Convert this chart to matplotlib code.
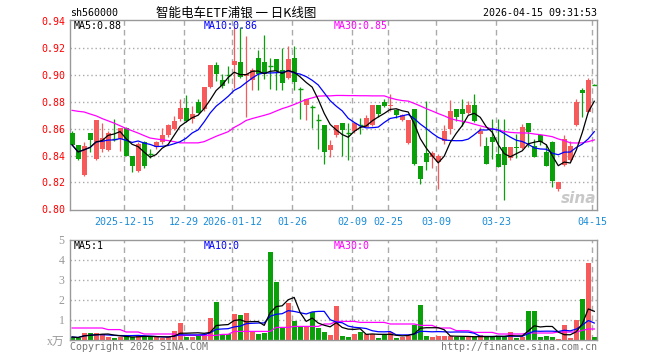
import matplotlib
matplotlib.use('Agg')
import matplotlib.pyplot as plt
import pandas as pd

# daily candles 2025-12-02 .. 2026-04-15
opens = [0.857, 0.848, 0.8255, 0.857, 0.8375, 0.845, 0.8445, 0.853, 0.8525, 0.8605,
         0.840, 0.8285, 0.850, 0.842, 0.8465, 0.850, 0.855, 0.860, 0.867, 0.8755,
         0.867, 0.880, 0.8745, 0.891, 0.9075, 0.896, 0.9005, 0.9075, 0.910, 0.899,
         0.8965, 0.913, 0.910, 0.9075, 0.912, 0.904, 0.898, 0.9125, 0.890, 0.878,
         0.877, 0.867, 0.863, 0.8445, 0.8555, 0.864, 0.857, 0.858, 0.8635, 0.8615,
         0.863, 0.878, 0.880, 0.877, 0.874, 0.8665, 0.8495, 0.8745, 0.8325, 0.842,
         0.839, 0.835, 0.851, 0.860, 0.875, 0.875, 0.872, 0.8775, 0.856, 0.8475,
         0.8535, 0.8415, 0.8465, 0.838, 0.8465, 0.8455, 0.864, 0.8475, 0.855, 0.843,
         0.850, 0.8155, 0.833, 0.8365, 0.8625, 0.8885, 0.8725, 0.893]
highs = [0.8585, 0.848, 0.850, 0.857, 0.8665, 0.8645, 0.858, 0.867, 0.8605, 0.861,
         0.840, 0.850, 0.851, 0.845, 0.851, 0.8605, 0.8635, 0.8695, 0.8825, 0.885,
         0.877, 0.882, 0.891, 0.9075, 0.910, 0.9005, 0.9065, 0.9355, 0.9355, 0.929,
         0.905, 0.919, 0.930, 0.913, 0.912, 0.920, 0.9215, 0.922, 0.891, 0.8825,
         0.878, 0.871, 0.863, 0.852, 0.8625, 0.864, 0.864, 0.864, 0.868, 0.8705,
         0.878, 0.878, 0.882, 0.886, 0.875, 0.871, 0.8665, 0.875, 0.8325, 0.8805,
         0.8438, 0.841, 0.8625, 0.8815, 0.875, 0.882, 0.8805, 0.886, 0.861, 0.8535,
         0.867, 0.867, 0.867, 0.8465, 0.856, 0.8635, 0.864, 0.8525, 0.855, 0.849,
         0.851, 0.8205, 0.855, 0.851, 0.8825, 0.8905, 0.898, 0.893]
lows = [0.848, 0.8365, 0.825, 0.843, 0.837, 0.843, 0.8435, 0.851, 0.8435, 0.8395,
        0.8275, 0.828, 0.831, 0.838, 0.845, 0.849, 0.854, 0.859, 0.866, 0.865,
        0.864, 0.8715, 0.873, 0.890, 0.8955, 0.890, 0.894, 0.8905, 0.8975, 0.869,
        0.889, 0.889, 0.897, 0.8895, 0.8885, 0.889, 0.897, 0.889, 0.8675, 0.8665,
        0.8605, 0.845, 0.8335, 0.839, 0.854, 0.8395, 0.8365, 0.857, 0.856, 0.861,
        0.862, 0.869, 0.876, 0.873, 0.868, 0.866, 0.849, 0.833, 0.819, 0.829,
        0.8305, 0.8155, 0.8485, 0.856, 0.866, 0.862, 0.871, 0.865, 0.8475, 0.834,
        0.8375, 0.8315, 0.807, 0.837, 0.838, 0.845, 0.8465, 0.839, 0.848, 0.832,
        0.817, 0.8135, 0.8325, 0.836, 0.862, 0.8685, 0.8725, 0.8925]
closes = [0.848, 0.8375, 0.8475, 0.8515, 0.8665, 0.853, 0.857, 0.8525, 0.8605, 0.840,
          0.832, 0.8485, 0.832, 0.8415, 0.850, 0.8555, 0.8625, 0.866, 0.8755, 0.866,
          0.871, 0.872, 0.891, 0.9075, 0.901, 0.8915, 0.900, 0.9105, 0.8985, 0.901,
          0.904, 0.901, 0.901, 0.907, 0.903, 0.894, 0.912, 0.8945, 0.8895, 0.8825,
          0.8765, 0.8665, 0.8425, 0.848, 0.8625, 0.859, 0.8565, 0.864, 0.863, 0.868,
          0.878, 0.871, 0.877, 0.878, 0.8705, 0.8705, 0.8665, 0.8335, 0.8225, 0.835,
          0.842, 0.840, 0.8585, 0.8735, 0.869, 0.871, 0.878, 0.866, 0.8585, 0.834,
          0.8505, 0.8315, 0.833, 0.8465, 0.8455, 0.8615, 0.8575, 0.839, 0.8505, 0.832,
          0.821, 0.820, 0.8525, 0.847, 0.880, 0.8865, 0.8965, 0.8925]
volumes = [0.15, 0.1, 0.37, 0.33, 0.35, 0.3, 0.15, 0.1, 0.15, 0.2,
           0.15, 0.2, 0.2, 0.15, 0.15, 0.1, 0.15, 0.43, 0.87, 0.15,
           0.15, 0.2, 0.3, 1.08, 1.88, 0.3, 0.3, 1.32, 1.27, 1.33,
           0.38, 0.32, 0.35, 4.42, 2.88, 0.58, 1.83, 0.93, 0.63, 0.68,
           1.42, 0.58, 0.38, 0.23, 1.72, 0.22, 0.17, 0.32, 0.38, 0.32,
           0.32, 0.08, 0.32, 0.38, 0.08, 0.17, 0.18, 0.73, 1.77, 0.22,
           0.17, 0.18, 0.22, 0.22, 0.15, 0.15, 0.15, 0.15, 0.25, 0.15,
           0.15, 0.22, 0.15, 0.42, 0.08, 0.15, 1.47, 1.43, 0.13, 0.22,
           0.13, 0.07, 0.77, 0.12, 0.98, 2.07, 3.83, 0.17]
# MA30 lines as drawn (they need history before the visible window)
price_ma30 = [0.8737, 0.873, 0.8725, 0.871, 0.8696, 0.8676, 0.8659, 0.8642, 0.8622, 0.8602,
              0.8585, 0.8568, 0.8549, 0.8531, 0.8524, 0.8518, 0.8512, 0.8504, 0.8495, 0.8495,
              0.8495, 0.8495, 0.8504, 0.8524, 0.8544, 0.8561, 0.8578, 0.861, 0.8634, 0.8662,
              0.8676, 0.8688, 0.870, 0.8713, 0.8732, 0.875, 0.8764, 0.8781, 0.8799, 0.8818,
              0.883, 0.8843, 0.8845, 0.8845, 0.8848, 0.8848, 0.8847, 0.8847, 0.8846, 0.8846,
              0.8845, 0.8845, 0.8845, 0.883, 0.8818, 0.881, 0.8806, 0.8789, 0.877, 0.875,
              0.8732, 0.8713, 0.8696, 0.8676, 0.8664, 0.8656, 0.8647, 0.8634, 0.8622, 0.861,
              0.8598, 0.859, 0.858, 0.8573, 0.857, 0.8569, 0.8568, 0.8561, 0.8556, 0.8549,
              0.8541, 0.8524, 0.8512, 0.8495, 0.8494, 0.8495, 0.8504, 0.8517]
vol_ma30 = [0.6] * 6 + [0.52] * 3 + [0.4] * 3 + [0.3] * 6 + [0.23] * 7 + [0.28] * 2 + \
           [0.43] * 7 + [0.63] * 3 + [0.68] * 5 + [0.8] * 2 + [0.93] * 4 + [0.88] * 5 + \
           [0.8] * 5 + [0.73] * 3 + [0.6] * 3 + [0.47] * 3 + [0.38] * 4 + [0.3] * 5 + \
           [0.35] * 5 + [0.4] * 4 + [0.48] + [0.55] * 2

tick_idx = [9, 19, 27, 37, 47, 53, 61, 71, 87]
tick_labels = ['2025-12-15', '12-29', '2026-01-12', '01-26', '02-09',
               '02-25', '03-09', '03-23', '04-15']

RED = '#F65A5A'
GREEN = '#0AA00A'
GRID = '#AAAAAA'
MONO = 'DejaVu Sans Mono'
W, H = 660, 360

n = len(closes)
x = list(range(n))
ma5 = pd.Series(closes).rolling(5, min_periods=1).mean()
ma10 = pd.Series(closes).rolling(10, min_periods=1).mean()
vma5 = pd.Series(volumes).rolling(5, min_periods=1).mean()
vma10 = pd.Series(volumes).rolling(10, min_periods=1).mean()

fig = plt.figure(figsize=(W / 100, H / 100), dpi=100)
fig.patch.set_facecolor('white')


def rect(l, t, r, b):
    return [l / W, 1 - b / H, (r - l) / W, (b - t) / H]


def px(xp, yp):
    return xp / W, 1 - yp / H


ax = fig.add_axes(rect(70, 20, 597, 210))
axv = fig.add_axes(rect(70, 240, 597, 340))

grid_x = [t - 0.33 for t in tick_idx]
for a in (ax, axv):
    a.set_xlim(-0.35, 87.45)
    for s in a.spines.values():
        s.set_color('#999999')
        s.set_linewidth(1.0)
    for gx in grid_x:
        a.axvline(gx, color=GRID, lw=1.0, ls=(0, (4, 3)), zorder=0)

# candles
for i in x:
    o, h, l, c = opens[i], highs[i], lows[i], closes[i]
    col = RED if c >= o else GREEN
    ax.vlines(i, l, h, color=col, lw=0.9, zorder=2)
    if abs(c - o) < 0.0008:
        ax.hlines(c, i - 0.4, i + 0.4, color=col, lw=1.0, zorder=3)
    else:
        ax.bar(i, abs(c - o), bottom=min(o, c), width=0.8, color=col,
               linewidth=0, zorder=3)

ax.plot(x, price_ma30, color='#FF00FF', lw=0.9, zorder=4)
ax.plot(x, ma10, color='#0000FF', lw=0.9, zorder=4)
ax.plot(x, ma5, color='black', lw=0.9, zorder=4)

ax.set_ylim(0.7995, 0.941)
yt = [0.80, 0.82, 0.84, 0.86, 0.88, 0.90, 0.92, 0.94]
ax.set_yticks(yt)
ax.set_yticklabels(['%.2f' % v for v in yt], family=MONO, fontsize=7.2, color='#FF0000')
for gy in yt[1:-1]:
    ax.axhline(gy, color=GRID, lw=1.0, ls=(0, (1, 2)), zorder=0)
ax.set_xticks(grid_x)
ax.set_xticklabels(tick_labels, family=MONO, fontsize=7.2, color='#1A8CD8')
ax.tick_params(axis='y', length=0, pad=3)
ax.tick_params(axis='x', length=0, pad=5)

# volume
vcols = [RED if closes[i] >= opens[i] else GREEN for i in x]
axv.bar(x, volumes, width=0.8, color=vcols, linewidth=0, zorder=2)
axv.plot(x, vol_ma30, color='#FF00FF', lw=0.9, zorder=4)
axv.plot(x, vma10, color='#0000FF', lw=0.9, zorder=4)
axv.plot(x, vma5, color='black', lw=0.9, zorder=4)
axv.set_ylim(0, 5)
for gy in [1, 2, 3, 4]:
    axv.axhline(gy, color=GRID, lw=1.0, ls=(0, (1, 2)), zorder=0)
axv.set_yticks([0, 1, 2, 3, 4, 5])
axv.set_yticklabels(['x万', '1', '2', '3', '4', '5'], family=['Liberation Serif', 'Noto Sans CJK SC'],
                    fontsize=8.5, color='#999999')
axv.set_xticks([])
axv.tick_params(length=0, pad=4)

# header texts
fig.text(*px(70, 13), 'sh560000', family=MONO, fontsize=7.2, va='center', ha='left')
fig.text(*px(236, 13), '智能电车ETF浦银 一 日K线图', family=['Noto Sans CJK SC', 'DejaVu Sans'],
         fontsize=9, va='center', ha='center')
fig.text(*px(597, 13), '2026-04-15 09:31:53', family=MONO, fontsize=7.2, va='center', ha='right')

fig.text(*px(74, 26), 'MA5:0.88', family=MONO, fontsize=7.2, va='center', color='black')
fig.text(*px(204, 26), 'MA10:0.86', family=MONO, fontsize=7.2, va='center', color='#0000FF')
fig.text(*px(334, 26), 'MA30:0.85', family=MONO, fontsize=7.2, va='center', color='#FF00FF')

fig.text(*px(74, 246), 'MA5:1', family=MONO, fontsize=7.2, va='center', color='black')
fig.text(*px(204, 246), 'MA10:0', family=MONO, fontsize=7.2, va='center', color='#0000FF')
fig.text(*px(334, 246), 'MA30:0', family=MONO, fontsize=7.2, va='center', color='#FF00FF')

fig.text(*px(70, 347), 'Copyright 2026 SINA.COM', family=MONO, fontsize=7.2,
         va='center', ha='left', color='#777777')
fig.text(*px(597, 347), 'http://finance.sina.com.cn', family=MONO, fontsize=7.2,
         va='center', ha='right', color='#777777')

# sina watermark
fig.text(*px(579, 198), 'sina', fontsize=11, fontweight='bold', style='italic',
         color='#C8C8C8', ha='center', va='center')

fig.savefig('out.png', dpi=100)
